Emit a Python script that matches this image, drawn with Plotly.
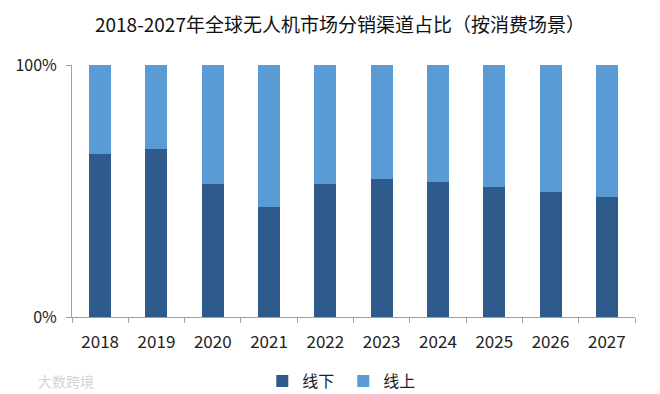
import plotly.graph_objects as go

years = ["2018", "2019", "2020", "2021", "2022", "2023", "2024", "2025", "2026", "2027"]
offline = [0.648, 0.667, 0.529, 0.438, 0.529, 0.548, 0.536, 0.516, 0.496, 0.476]
online = [round(1 - v, 3) for v in offline]

FONT = "Noto Sans CJK SC"

fig = go.Figure()
fig.add_trace(go.Bar(x=years, y=offline, name="线下", marker=dict(color="#2E5B8C", line=dict(width=0))))
fig.add_trace(go.Bar(x=years, y=online, name="线上", marker=dict(color="#5B9BD5", line=dict(width=0))))

# page body has an 8px margin, so the figure is offset by 8px right and down
fig.update_layout(
    width=660, height=394,
    barmode="stack", bargap=0.61,
    plot_bgcolor="white", paper_bgcolor="white",
    margin=dict(l=64, r=33, t=57, b=85, autoexpand=False),
    font=dict(family=FONT, color="#222222", size=16),
    title=dict(text="2018-2027年全球无人机市场分销渠道占比（按消费场景）",
               x=0.503, xanchor="center", y=0.955, yanchor="middle",
               font=dict(size=19, family=FONT, color="#111111")),
    legend=dict(orientation="h", xref="container", yref="container",
                x=0.508, xanchor="center", y=0.053, yanchor="middle",
                font=dict(size=16, family=FONT), itemwidth=30, traceorder="normal",
                entrywidth=36, entrywidthmode="pixels", tracegroupgap=0),
    showlegend=True,
)
fig.update_xaxes(showline=True, linecolor="#A0A0A0", linewidth=1,
                 ticks="outside", tickson="boundaries", ticklen=5, tickcolor="#A0A0A0",
                 ticklabelstandoff=10,
                 tickfont=dict(size=17, family=FONT, color="#222222"))
fig.update_yaxes(range=[0, 1], tickvals=[0, 1], ticktext=["0%", "100%"],
                 showline=True, linecolor="#A0A0A0", linewidth=1,
                 ticks="outside", ticklen=5, tickcolor="#A0A0A0", showgrid=False,
                 ticklabelstandoff=6,
                 zeroline=False, tickfont=dict(size=16, family=FONT, color="#222222"))

fig.add_annotation(text="大数跨境", xref="paper", yref="paper", x=-0.064, y=-0.254,
                   xanchor="left", yanchor="middle", showarrow=False,
                   font=dict(size=14, family=FONT, color="#D4D4D4"))

fig.write_html("out.html")
